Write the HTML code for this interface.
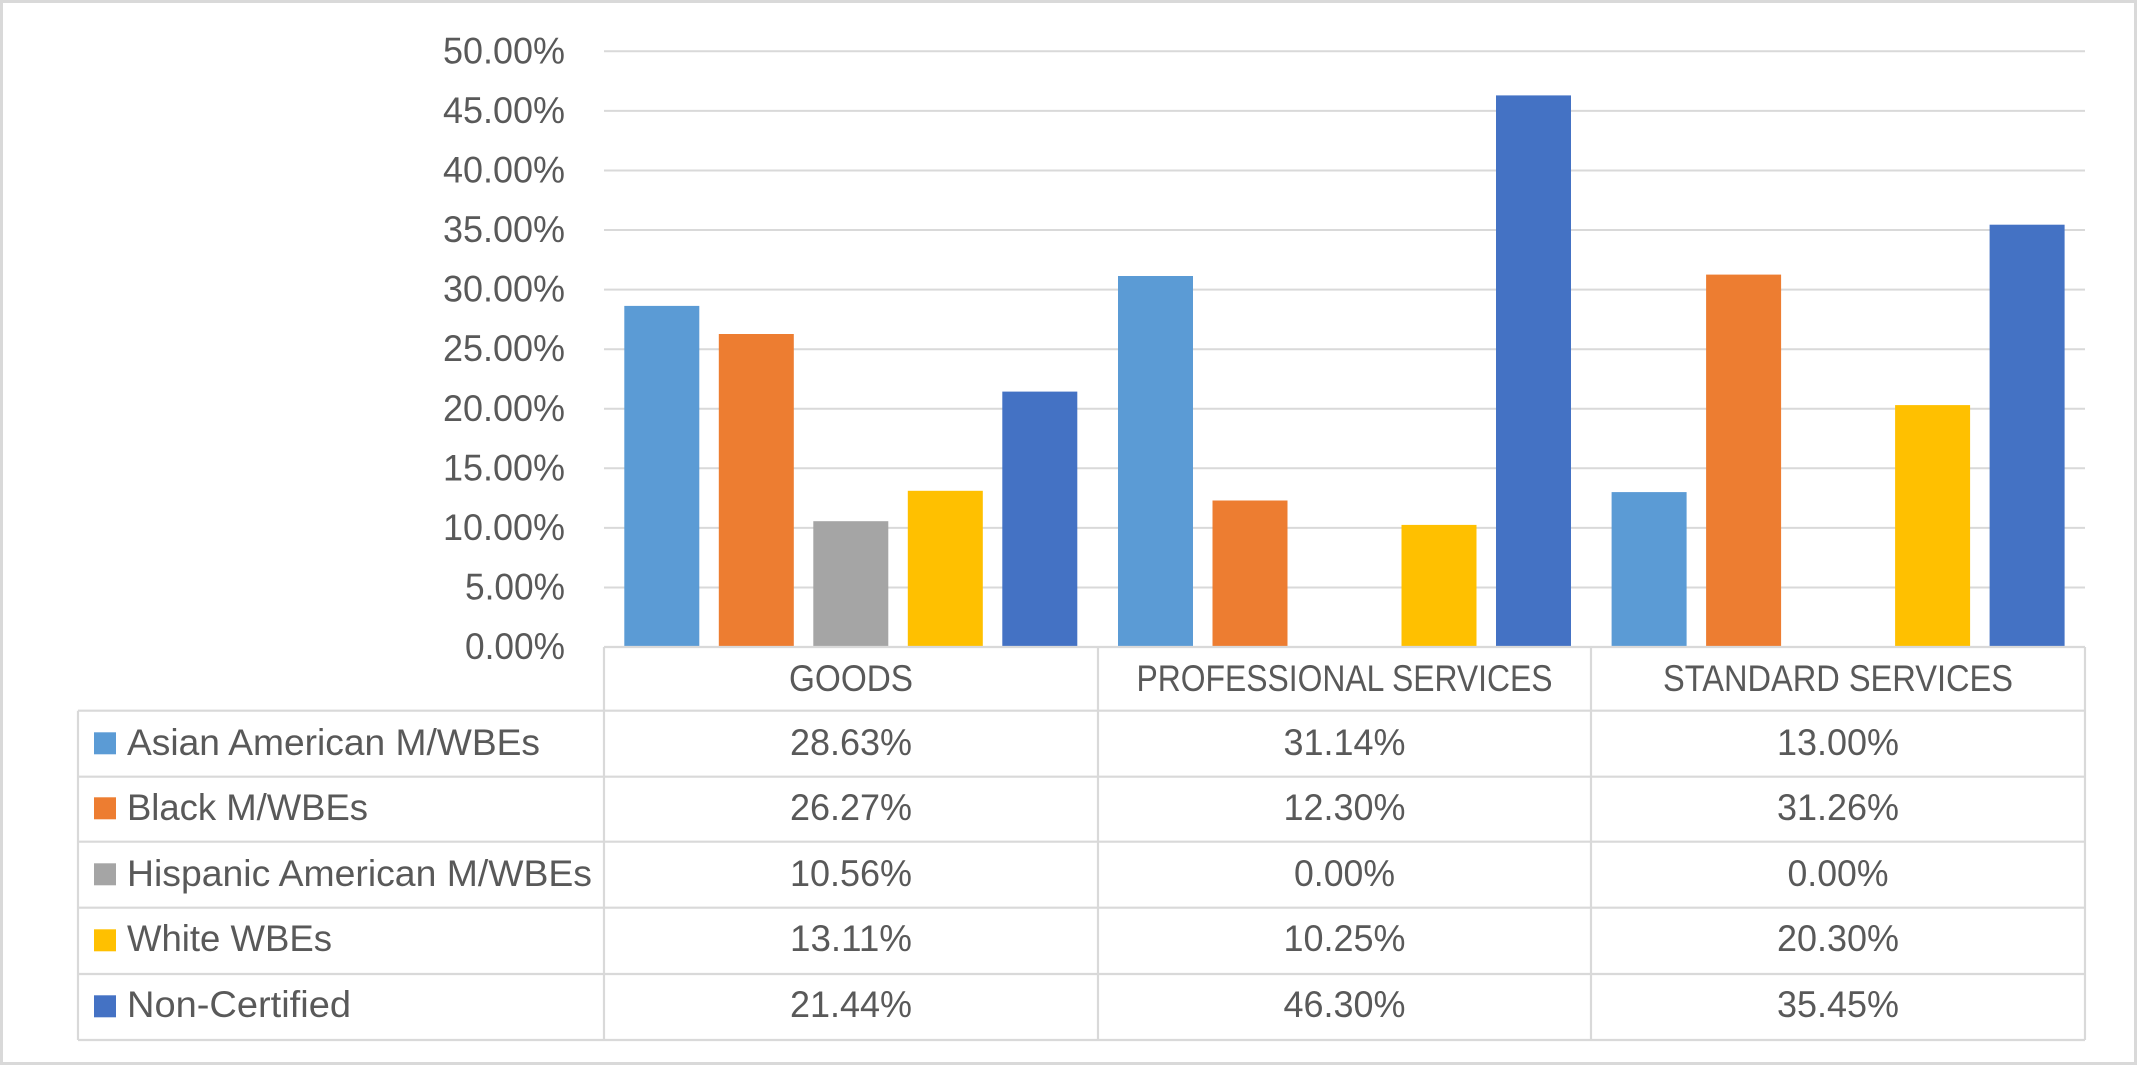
<!DOCTYPE html>
<html>
<head>
<meta charset="utf-8">
<style>
  html, body { margin: 0; padding: 0; background: #ffffff; }
  svg { display: block; }
  text { font-family: "Liberation Sans", Arial, sans-serif; fill: #595959; font-size: 37px; }
</style>
</head>
<body>
<svg width="2137" height="1065" viewBox="0 0 2137 1065" xmlns="http://www.w3.org/2000/svg">
  <rect x="0" y="0" width="2137" height="1065" fill="#ffffff"/>
  <rect x="1.5" y="1.5" width="2134" height="1062" fill="none" stroke="#d9d9d9" stroke-width="3"/>

  <!-- gridlines -->
  <g stroke="#d9d9d9" stroke-width="2">
    <line x1="604" y1="51.3" x2="2085" y2="51.3"/>
    <line x1="604" y1="110.9" x2="2085" y2="110.9"/>
    <line x1="604" y1="170.5" x2="2085" y2="170.5"/>
    <line x1="604" y1="230.0" x2="2085" y2="230.0"/>
    <line x1="604" y1="289.6" x2="2085" y2="289.6"/>
    <line x1="604" y1="349.2" x2="2085" y2="349.2"/>
    <line x1="604" y1="408.8" x2="2085" y2="408.8"/>
    <line x1="604" y1="468.3" x2="2085" y2="468.3"/>
    <line x1="604" y1="527.9" x2="2085" y2="527.9"/>
    <line x1="604" y1="587.5" x2="2085" y2="587.5"/>
  </g>

  <!-- y axis labels -->
  <g text-anchor="end">
    <text x="565" y="63.3" textLength="122" lengthAdjust="spacingAndGlyphs">50.00%</text>
    <text x="565" y="122.9" textLength="122" lengthAdjust="spacingAndGlyphs">45.00%</text>
    <text x="565" y="182.5" textLength="122" lengthAdjust="spacingAndGlyphs">40.00%</text>
    <text x="565" y="242.0" textLength="122" lengthAdjust="spacingAndGlyphs">35.00%</text>
    <text x="565" y="301.6" textLength="122" lengthAdjust="spacingAndGlyphs">30.00%</text>
    <text x="565" y="361.2" textLength="122" lengthAdjust="spacingAndGlyphs">25.00%</text>
    <text x="565" y="420.8" textLength="122" lengthAdjust="spacingAndGlyphs">20.00%</text>
    <text x="565" y="480.3" textLength="122" lengthAdjust="spacingAndGlyphs">15.00%</text>
    <text x="565" y="539.9" textLength="122" lengthAdjust="spacingAndGlyphs">10.00%</text>
    <text x="565" y="599.5" textLength="100" lengthAdjust="spacingAndGlyphs">5.00%</text>
    <text x="565" y="659.1" textLength="100" lengthAdjust="spacingAndGlyphs">0.00%</text>
  </g>

  <!-- bars: Goods -->
  <rect x="624.3" y="305.9" width="75" height="341.1" fill="#5b9bd5"/>
  <rect x="718.8" y="334.0" width="75" height="313.0" fill="#ed7d31"/>
  <rect x="813.3" y="521.2" width="75" height="125.8" fill="#a5a5a5"/>
  <rect x="907.8" y="490.8" width="75" height="156.2" fill="#ffc000"/>
  <rect x="1002.3" y="391.6" width="75" height="255.4" fill="#4472c4"/>
  <!-- bars: Professional -->
  <rect x="1118.0" y="276.0" width="75" height="371.0" fill="#5b9bd5"/>
  <rect x="1212.5" y="500.5" width="75" height="146.5" fill="#ed7d31"/>
  <rect x="1401.5" y="524.9" width="75" height="122.1" fill="#ffc000"/>
  <rect x="1496.0" y="95.4" width="75" height="551.6" fill="#4472c4"/>
  <!-- bars: Standard -->
  <rect x="1611.6" y="492.1" width="75" height="154.9" fill="#5b9bd5"/>
  <rect x="1706.1" y="274.6" width="75" height="372.4" fill="#ed7d31"/>
  <rect x="1895.1" y="405.1" width="75" height="241.9" fill="#ffc000"/>
  <rect x="1989.6" y="224.7" width="75" height="422.3" fill="#4472c4"/>

  <!-- data table lines -->
  <g stroke="#d9d9d9" stroke-width="2.2" fill="none">
    <line x1="604" y1="647" x2="2085" y2="647"/>
    <line x1="78" y1="710.7" x2="2085" y2="710.7"/>
    <line x1="78" y1="776.7" x2="2085" y2="776.7"/>
    <line x1="78" y1="841.7" x2="2085" y2="841.7"/>
    <line x1="78" y1="907.7" x2="2085" y2="907.7"/>
    <line x1="78" y1="974" x2="2085" y2="974"/>
    <line x1="78" y1="1040" x2="2085" y2="1040"/>
    <line x1="78" y1="710.7" x2="78" y2="1040"/>
    <line x1="604" y1="647" x2="604" y2="1040"/>
    <line x1="1098" y1="647" x2="1098" y2="1040"/>
    <line x1="1591" y1="647" x2="1591" y2="1040"/>
    <line x1="2085" y1="647" x2="2085" y2="1040"/>
  </g>

  <!-- headers -->
  <g text-anchor="middle">
    <text x="851" y="691" textLength="124" lengthAdjust="spacingAndGlyphs">GOODS</text>
    <text x="1344.5" y="691" textLength="416" lengthAdjust="spacingAndGlyphs">PROFESSIONAL SERVICES</text>
    <text x="1838" y="691" textLength="350" lengthAdjust="spacingAndGlyphs">STANDARD SERVICES</text>
  </g>

  <!-- legend keys -->
  <rect x="94" y="732.3" width="22" height="22" fill="#5b9bd5"/>
  <rect x="94" y="797.3" width="22" height="22" fill="#ed7d31"/>
  <rect x="94" y="863.3" width="22" height="22" fill="#a5a5a5"/>
  <rect x="94" y="929.3" width="22" height="22" fill="#ffc000"/>
  <rect x="94" y="995.3" width="22" height="22" fill="#4472c4"/>

  <text x="127" y="755" textLength="413" lengthAdjust="spacingAndGlyphs">Asian American M/WBEs</text>
  <text x="127" y="820" textLength="241" lengthAdjust="spacingAndGlyphs">Black M/WBEs</text>
  <text x="127" y="886" textLength="465" lengthAdjust="spacingAndGlyphs">Hispanic American M/WBEs</text>
  <text x="127" y="951" textLength="205" lengthAdjust="spacingAndGlyphs">White WBEs</text>
  <text x="127" y="1017" textLength="224" lengthAdjust="spacingAndGlyphs">Non-Certified</text>

  <!-- values -->
  <g text-anchor="middle">
    <text x="851" y="755" textLength="122" lengthAdjust="spacingAndGlyphs">28.63%</text>
    <text x="1344.5" y="755" textLength="122" lengthAdjust="spacingAndGlyphs">31.14%</text>
    <text x="1838" y="755" textLength="122" lengthAdjust="spacingAndGlyphs">13.00%</text>

    <text x="851" y="820" textLength="122" lengthAdjust="spacingAndGlyphs">26.27%</text>
    <text x="1344.5" y="820" textLength="122" lengthAdjust="spacingAndGlyphs">12.30%</text>
    <text x="1838" y="820" textLength="122" lengthAdjust="spacingAndGlyphs">31.26%</text>

    <text x="851" y="886" textLength="122" lengthAdjust="spacingAndGlyphs">10.56%</text>
    <text x="1344.5" y="886" textLength="101" lengthAdjust="spacingAndGlyphs">0.00%</text>
    <text x="1838" y="886" textLength="101" lengthAdjust="spacingAndGlyphs">0.00%</text>

    <text x="851" y="951" textLength="122" lengthAdjust="spacingAndGlyphs">13.11%</text>
    <text x="1344.5" y="951" textLength="122" lengthAdjust="spacingAndGlyphs">10.25%</text>
    <text x="1838" y="951" textLength="122" lengthAdjust="spacingAndGlyphs">20.30%</text>

    <text x="851" y="1017" textLength="122" lengthAdjust="spacingAndGlyphs">21.44%</text>
    <text x="1344.5" y="1017" textLength="122" lengthAdjust="spacingAndGlyphs">46.30%</text>
    <text x="1838" y="1017" textLength="122" lengthAdjust="spacingAndGlyphs">35.45%</text>
  </g>
</svg>
</body>
</html>
